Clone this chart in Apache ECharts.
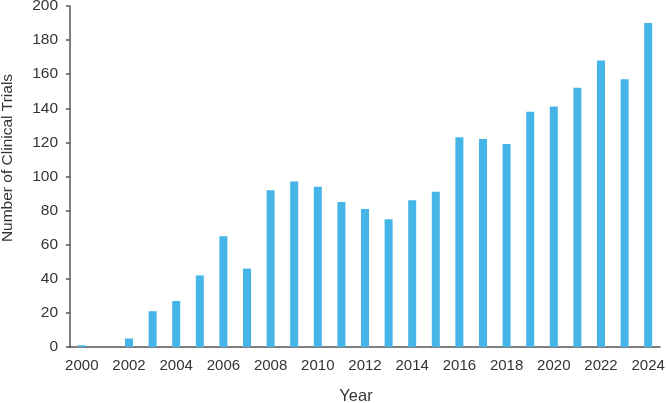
<!DOCTYPE html>
<html>
<head>
<meta charset="utf-8">
<script src="https://cdn.jsdelivr.net/npm/echarts@6/dist/echarts.min.js"></script>
<style>
  html, body { margin: 0; padding: 0; background: #fff; }
  #main { width: 666px; height: 403px; }
</style>
</head>
<body>
<div id="main"></div>
<script>
var years = ['2000','2001','2002','2003','2004','2005','2006','2007','2008','2009','2010','2011','2012',
             '2013','2014','2015','2016','2017','2018','2019','2020','2021','2022','2023','2024'];
var trials = [1, 0, 5, 21, 27, 42, 65, 46, 92, 97, 94, 85, 81,
              75, 86, 91, 123, 122, 119, 138, 141, 152, 168, 157, 190];
var yTicks = { min: 0, max: 200, interval: 20 };

var myChart = echarts.init(document.getElementById('main'));
var axisColor = '#555';
var font = 'Liberation Sans, Arial, sans-serif';

var option = {
    animation: false,
    grid: { left: 70, right: 6, top: 6, bottom: 56, outerBoundsMode: 'none', containLabel: false },
    // axis titles placed by hand, they sit off-centre in the original
    graphic: [
        {
            type: 'text',
            x: 8, y: 158,
            rotation: Math.PI / 2,
            style: {
                text: 'Number of Clinical Trials',
                fill: '#333', fontSize: 15.5, fontFamily: font,
                align: 'center', verticalAlign: 'middle'
            }
        },
        {
            type: 'text',
            x: 356, y: 396.5,
            style: {
                text: 'Year',
                fill: '#333', fontSize: 16.5, fontFamily: font,
                align: 'center', verticalAlign: 'middle'
            }
        }
    ],
    xAxis: {
        type: 'category',
        data: years,
        axisLine: { lineStyle: { color: axisColor, width: 1.5 } },
        axisTick: { alignWithLabel: true, interval: 0, length: 4, lineStyle: { color: axisColor, width: 1.5 } },
        axisLabel: { interval: 1, margin: 11, color: '#333', fontSize: 15, fontFamily: font }
    },
    yAxis: {
        type: 'value',
        min: yTicks.min,
        max: yTicks.max,
        interval: yTicks.interval,
        splitLine: { show: false },
        axisLine: { show: true, lineStyle: { color: axisColor, width: 1.5 } },
        axisTick: { show: true, length: 4, lineStyle: { color: axisColor, width: 1.5 } },
        axisLabel: { margin: 12, color: '#333', fontSize: 15.5, fontFamily: font }
    },
    series: [{
        type: 'bar',
        data: trials,
        barWidth: 8,
        itemStyle: { color: '#45B5E7' }
    }]
};

myChart.setOption(option);
</script>
</body>
</html>
